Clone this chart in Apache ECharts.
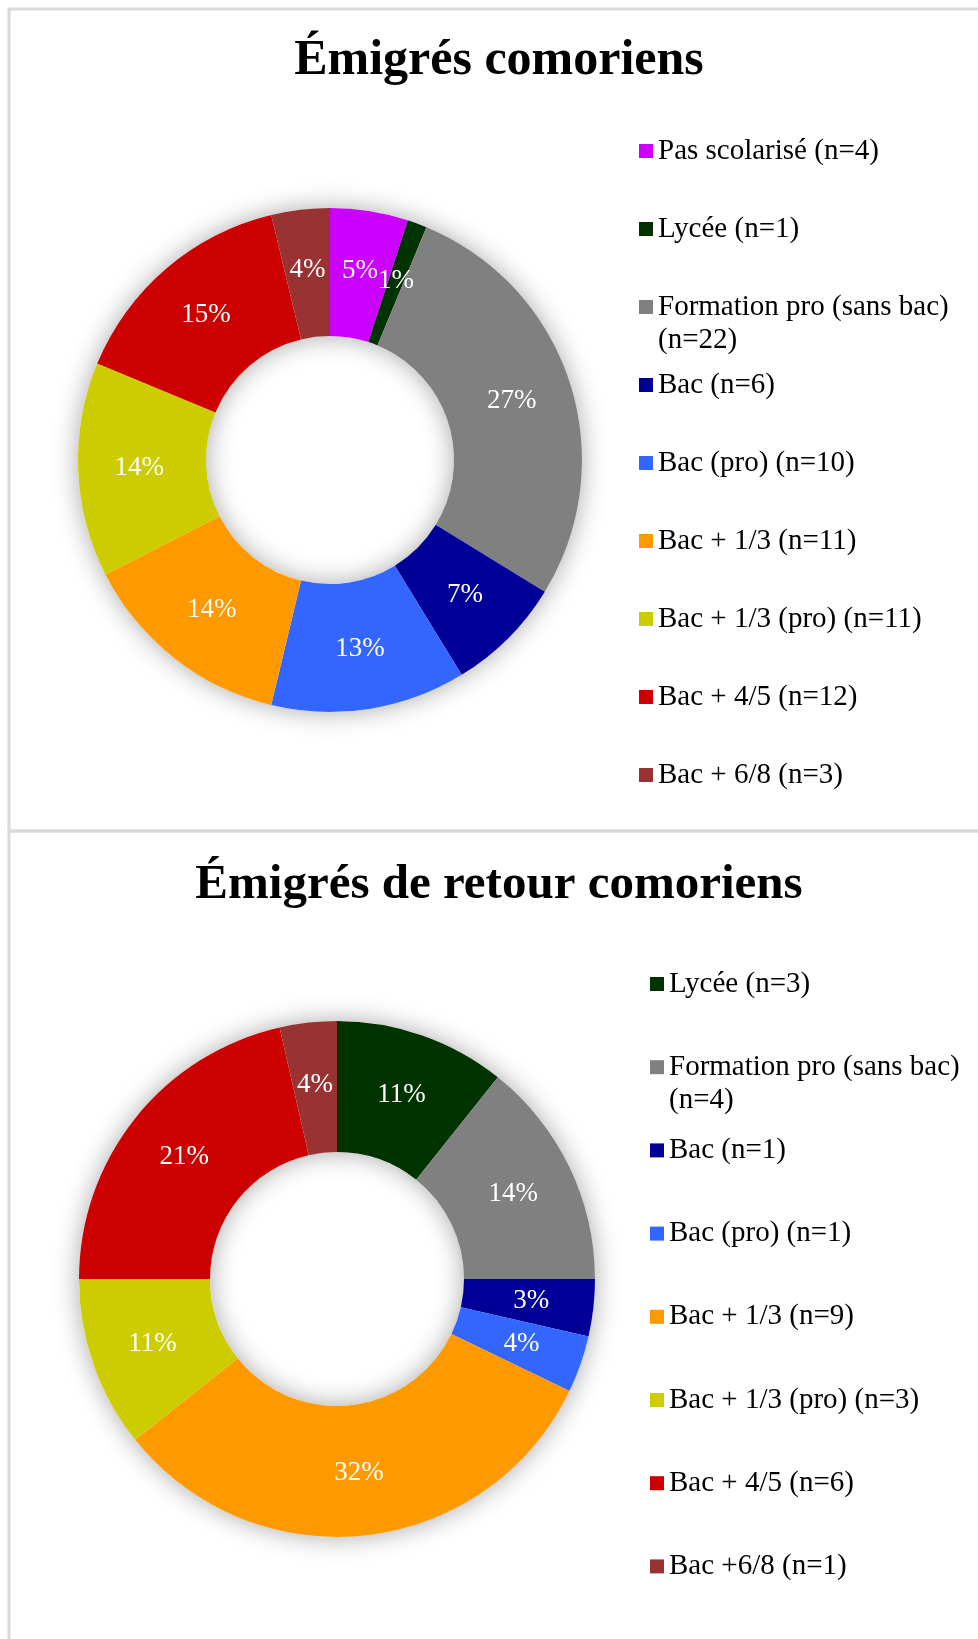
<!DOCTYPE html>
<html>
<head>
<meta charset="utf-8">
<script src="https://cdn.jsdelivr.net/npm/echarts@6/dist/echarts.min.js"></script>
<style>
html,body{margin:0;padding:0;background:#fff;}
#chart{width:978px;height:1639px;}
</style>
</head>
<body>
<div id="chart"></div>
<script>
// ---- Data ----
const titles = ['Émigrés comoriens', 'Émigrés de retour comoriens'];

const categories1 = ['Pas scolarisé', 'Lycée', 'Formation pro (sans bac)', 'Bac', 'Bac (pro)', 'Bac + 1/3', 'Bac + 1/3 (pro)', 'Bac + 4/5', 'Bac + 6/8'];
const counts1 = [4, 1, 22, 6, 10, 11, 11, 12, 3];
const pctLabels1 = [5, 1, 27, 7, 13, 14, 14, 15, 4];
const colors1 = ['#CC00FF', '#003300', '#808080', '#000099', '#3366FF', '#FF9900', '#CCCC00', '#CC0000', '#993333'];

const categories2 = ['Lycée', 'Formation pro (sans bac)', 'Bac', 'Bac (pro)', 'Bac + 1/3', 'Bac + 1/3 (pro)', 'Bac + 4/5', 'Bac +6/8'];
const counts2 = [3, 4, 1, 1, 9, 3, 6, 1];
const pctLabels2 = [11, 14, 3, 4, 32, 11, 21, 4];
const colors2 = ['#003300', '#808080', '#000099', '#3366FF', '#FF9900', '#CCCC00', '#CC0000', '#993333'];

// ---- Build ----
const FONT = '"Liberation Serif", "DejaVu Serif", serif';
const chart = echarts.init(document.getElementById('chart'), null, {renderer: 'canvas'});

function names(cats, counts) { return cats.map((c, i) => c + ' (n=' + counts[i] + ')'); }
const names1 = names(categories1, counts1);
const names2 = names(categories2, counts2);

function pieData(nm, counts, colors) {
  return nm.map((n, i) => ({name: n, value: counts[i], itemStyle: {color: colors[i]}}));
}

function shadowRing(center, radius) {
  return {
    type: 'pie', center: center, radius: radius, silent: true, z: 1,
    animation: false, label: {show: false}, labelLine: {show: false},
    emphasis: {disabled: true},
    data: [{value: 1, name: '', itemStyle: {color: '#fff', borderWidth: 0, shadowBlur: 26, shadowColor: 'rgba(0,0,0,0.34)'}}]
  };
}

function donut(center, radius, data, pct) {
  return {
    type: 'pie', center: center, radius: radius, startAngle: 90, clockwise: true,
    silent: true, z: 3, animation: false, avoidLabelOverlap: false,
    itemStyle: {borderWidth: 0},
    label: {
      show: true, position: 'inside', color: '#ffffff',
      fontFamily: FONT, fontSize: 27,
      formatter: p => pct[p.dataIndex] + '%'
    },
    labelLine: {show: false},
    emphasis: {disabled: true},
    data: data
  };
}

const LH = 33;
function legends(nm, left, y0, step) {
  return nm.map((n, i) => {
    const wrap = n.indexOf('Formation') === 0;
    const yc = y0 + i * step;
    return {
      data: [n], orient: 'vertical', left: left, top: wrap ? yc - 1.5 * LH : yc - LH / 2,
      padding: 0, itemWidth: 14, itemHeight: 14, icon: 'rect', selectedMode: false,
      formatter: wrap ? (s => ' \n' + s.replace(' (n=', '\n(n=')) : (s => s),
      textStyle: {fontFamily: FONT, fontSize: 29, color: '#000', lineHeight: LH}
    };
  });
}

const option = {
  backgroundColor: '#fff',
  animation: false,
  graphic: [
    {type: 'rect', shape: {x: 9, y: 9, width: 1000, height: 822}, style: {fill: 'none', stroke: '#d9d9d9', lineWidth: 3}, silent: true},
    {type: 'rect', shape: {x: 9, y: 831, width: 1000, height: 900}, style: {fill: 'none', stroke: '#d9d9d9', lineWidth: 3}, silent: true},
    {type: 'text', x: 499, y: 61, style: {text: titles[0], fontFamily: FONT, fontSize: 50, fontWeight: 'bold', fill: '#000', align: 'center', verticalAlign: 'middle'}, silent: true},
    {type: 'text', x: 499, y: 885, style: {text: titles[1], fontFamily: FONT, fontSize: 49, fontWeight: 'bold', fill: '#000', align: 'center', verticalAlign: 'middle'}, silent: true}
  ],
  legend: [].concat(legends(names1, 639, 151, 78), legends(names2, 650, 984, 83.2)),
  series: [
    shadowRing([330, 460], [124, 252]),
    donut([330, 460], [124, 252], pieData(names1, counts1, colors1), pctLabels1),
    shadowRing([337, 1279], [127, 258]),
    donut([337, 1279], [127, 258], pieData(names2, counts2, colors2), pctLabels2)
  ]
};
chart.setOption(option);
</script>
</body>
</html>
